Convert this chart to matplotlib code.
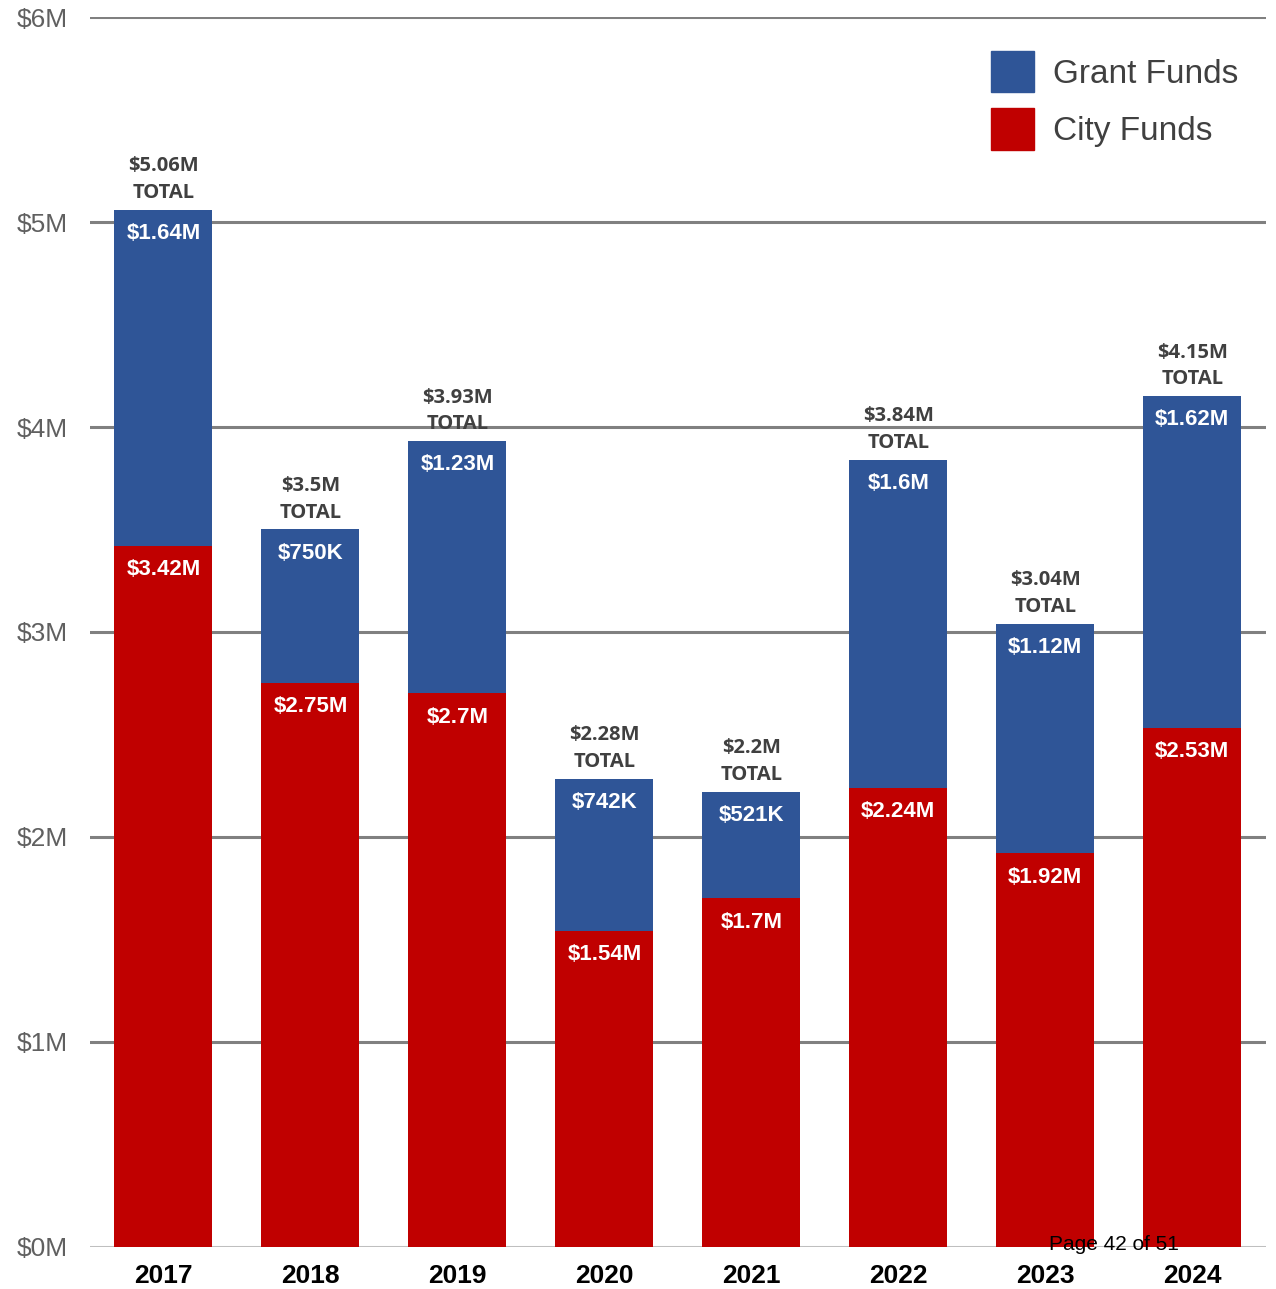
import matplotlib.pyplot as plt
from matplotlib.patches import Patch

years = ['2017', '2018', '2019', '2020', '2021', '2022', '2023', '2024']
city = [3.42, 2.75, 2.70, 1.54, 1.70, 2.24, 1.92, 2.53]
grant = [1.64, 0.75, 1.23, 0.742, 0.521, 1.60, 1.12, 1.62]
city_labels = ['$3.42M', '$2.75M', '$2.7M', '$1.54M', '$1.7M', '$2.24M', '$1.92M', '$2.53M']
grant_labels = ['$1.64M', '$750K', '$1.23M', '$742K', '$521K', '$1.6M', '$1.12M', '$1.62M']
total_labels = ['$5.06M', '$3.5M', '$3.93M', '$2.28M', '$2.2M', '$3.84M', '$3.04M', '$4.15M']
yticks = [0, 1, 2, 3, 4, 5, 6]

blue = '#2F5597'
red = '#C00000'

fig = plt.figure(figsize=(12.76, 12.89), dpi=100)
ax = fig.add_axes([0.0705, 0.0326, 0.9215, 0.9542])

x = range(len(years))
ax.bar(x, city, width=0.667, color=red, zorder=3)
ax.bar(x, grant, bottom=city, width=0.667, color=blue, zorder=3)

ax.set_xlim(-0.5, 7.5)
ax.set_ylim(0, 6)
ax.set_yticks(yticks)
ax.set_yticklabels(['$%dM' % v for v in yticks], fontsize=19, color='#606060',
                   family='Liberation Sans')
ax.set_xticks(list(x))
ax.set_xticklabels(years, fontsize=19, fontweight='bold', color='black',
                   family='Liberation Sans')
ax.tick_params(axis='y', length=0, pad=16)
ax.tick_params(axis='x', length=0, pad=12)
for s in ax.spines.values():
    s.set_visible(False)

# gridlines
for v in yticks:
    ax.axhline(v, color='#bfbfbf' if v == 0 else '#808080', lw=2.2, zorder=1)

for i in x:
    top = city[i] + grant[i]
    ax.annotate(grant_labels[i], (i, top), xytext=(0, -17), textcoords='offset points',
                ha='center', va='center', color='white', fontsize=16, fontweight='bold',
                family='Liberation Sans', zorder=4)
    ax.annotate(city_labels[i], (i, city[i]), xytext=(0, -17), textcoords='offset points',
                ha='center', va='center', color='white', fontsize=16, fontweight='bold',
                family='Liberation Sans', zorder=4)
    ax.annotate(total_labels[i] + '\nTOTAL', (i, top), xytext=(0, 5), textcoords='offset points',
                ha='center', va='bottom', color='#404040', fontsize=14.5, fontweight='bold',
                family='Open Sans', linespacing=1.45, zorder=4)

handles = [Patch(color=blue, label='Grant Funds'), Patch(color=red, label='City Funds')]
ax.legend(handles=handles, loc='upper right', bbox_to_anchor=(1.002, 0.997), frameon=False,
          prop={'family': 'Liberation Sans', 'size': 24}, labelcolor='#404040',
          handlelength=1.29, handleheight=1.55, labelspacing=0.48, handletextpad=0.57)

fig.text(1114 / 1276, 1 - 1245 / 1289, 'Page 42 of 51', ha='center', va='center',
         fontsize=15, family='Liberation Sans', color='black')

fig.savefig('out.png')
